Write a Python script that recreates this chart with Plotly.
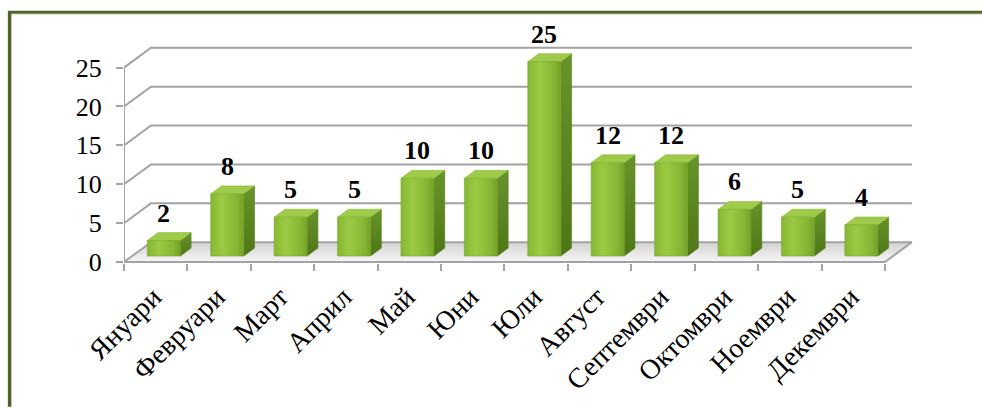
import plotly.graph_objects as go

# ---- data ----
months = ["Януари", "Февруари", "Март", "Април", "Май", "Юни",
          "Юли", "Август", "Септември", "Октомври", "Ноември", "Декември"]
counts = [2, 8, 5, 5, 10, 10, 25, 12, 12, 6, 5, 4]
y_ticks = [0, 5, 10, 15, 20, 25]

# ---- geometry of the pseudo-3D box (data units) ----
W, H = 982, 408
N = len(months)
PXX = (885 - 124) / N          # pixels per category
PXY = 7.84                     # pixels per value unit
DX = 27 / PXX                  # depth offset along x
DY = 20 / PXY                  # depth offset along y
F0, F1 = 0.3, 0.7              # bar front/back depth fractions
BW = 0.52                      # bar width (category fraction)

L = 124
X_MAX = 12.6
PLOT_W = X_MAX * PXX
R = W - L - PLOT_W
B = H - 265
T = 20
Y_MIN = -(265 - 264) / PXY
Y_MAX = (264 - T) / PXY
PLOT_H = H - B - T

SERIF = "Liberation Serif"
GRID = "#A3A3A3"

fig = go.Figure()


def seg_trace(xs, ys, color=GRID, width=2):
    fig.add_trace(go.Scatter(x=xs, y=ys, mode="lines", hoverinfo="skip",
                             line=dict(color=color, width=width),
                             showlegend=False))


# floor
fig.add_trace(go.Scatter(
    x=[0, N, N + DX, DX, 0], y=[0, 0, DY, DY, 0], mode="lines",
    fill="toself", line=dict(width=0), hoverinfo="skip", showlegend=False,
    fillgradient=dict(type="vertical",
                      colorscale=[[0, "#F6F6F6"], [1, "#D2D2D2"]])))

# back-wall gridlines with their side-wall diagonals
gx, gy = [], []
for v in y_ticks:
    gx += [0, DX, N + DX, None]
    gy += [v, v + DY, v + DY, None]
seg_trace(gx, gy)

# floor edges and value axis
seg_trace([0, N, N + DX], [0, 0, DY])
seg_trace([0, 0], [0, y_ticks[-1]])

# 3D columns
for i, v in enumerate(counts):
    x0 = i + (1 - BW) / 2 + F0 * DX
    x1 = x0 + BW
    yb = F0 * DY
    yt = yb + v
    ddx = (F1 - F0) * DX
    ddy = (F1 - F0) * DY
    # right side face
    fig.add_trace(go.Scatter(
        x=[x1, x1 + ddx, x1 + ddx, x1, x1], y=[yb, yb + ddy, yt + ddy, yt, yb],
        mode="lines", fill="toself", hoverinfo="skip", showlegend=False,
        line=dict(color="#557D1B", width=0.6),
        fillgradient=dict(type="vertical",
                          colorscale=[[0, "#4F7716"], [1, "#67942A"]])))
    # top face
    fig.add_trace(go.Scatter(
        x=[x0, x1, x1 + ddx, x0 + ddx, x0], y=[yt, yt, yt + ddy, yt + ddy, yt],
        mode="lines", fill="toself", fillcolor="#9FCB4A", hoverinfo="skip",
        showlegend=False, line=dict(color="#8DB93C", width=0.6)))
    # front face
    fig.add_trace(go.Scatter(
        x=[x0, x1, x1, x0, x0], y=[yb, yb, yt, yt, yb],
        mode="lines", fill="toself", hoverinfo="skip", showlegend=False,
        line=dict(color="#79A62A", width=0.6),
        fillgradient=dict(type="horizontal",
                          colorscale=[[0, "#86B634"], [0.35, "#9CCA43"],
                                      [0.8, "#86B534"], [1, "#74A127"]])))
    # value label
    fig.add_annotation(x=(x0 + x1) / 2, y=yt + ddy, text=f"<b>{v}</b>",
                       showarrow=False, yanchor="bottom", yshift=3,
                       font=dict(family=SERIF, size=26, color="black"))

# frame around the chart
def px_x(p):
    return (p - L) / PLOT_W


def px_y(p):
    return (H - B - p) / PLOT_H


fig.add_shape(type="line", xref="paper", yref="paper",
              x0=px_x(9.6), x1=px_x(9.6), y0=px_y(11), y1=px_y(H + 2),
              line=dict(color="#4F6228", width=3.5))
fig.add_shape(type="line", xref="paper", yref="paper",
              x0=px_x(8), x1=px_x(W + 4), y0=px_y(12.2), y1=px_y(12.2),
              line=dict(color="#4F6228", width=3))
fig.add_shape(type="line", xref="paper", yref="paper",
              x0=px_x(12), x1=px_x(W + 4), y0=px_y(14.3), y1=px_y(14.3),
              line=dict(color="#D3DFBC", width=1))

fig.update_layout(
    width=W, height=H,
    margin=dict(l=L, r=R, t=T, b=B),
    paper_bgcolor="white", plot_bgcolor="rgba(0,0,0,0)",
    showlegend=False,
    xaxis=dict(
        range=[0, X_MAX], showgrid=False, zeroline=False, showline=False,
        tickmode="array",
        tickvals=[i + 0.46 for i in range(N)],
        ticktext=months, tickangle=-45, ticks="",
        ticklabelstandoff=11,
        tickfont=dict(family=SERIF, size=28, color="black"),
        minor=dict(tickmode="array", tickvals=list(range(N + 1)),
                   ticks="outside", ticklen=7, tickwidth=1.5,
                   tickcolor=GRID, showgrid=False),
    ),
    yaxis=dict(
        range=[Y_MIN, Y_MAX], showgrid=False, zeroline=False, showline=False,
        tickmode="array", tickvals=y_ticks, ticks="outside", ticklen=7,
        tickwidth=1.5, tickcolor=GRID, ticklabelstandoff=9,
        tickfont=dict(family=SERIF, size=26, color="black"),
    ),
)

fig.write_html("out.html", config={"displayModeBar": False})
